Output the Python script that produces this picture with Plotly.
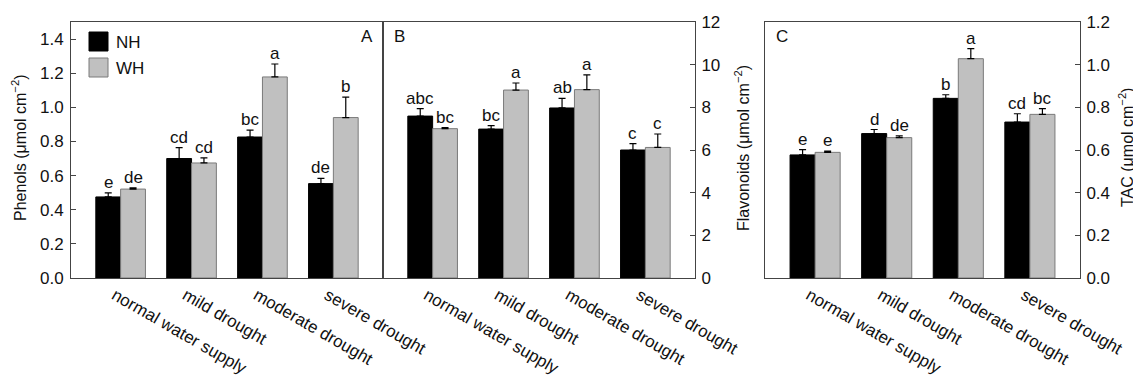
import plotly.graph_objects as go

# page body adds an 8px margin; map reference pixel coords accordingly
OFF = 8
W, H = 1141 - OFF, 381 - OFF

categories = ["normal water supply", "mild drought", "moderate drought", "severe drought"]
series_names = ["NH", "WH"]

# Panel A: Phenols
phenols_nh = [0.475, 0.700, 0.826, 0.553]
phenols_nh_err = [0.024, 0.064, 0.040, 0.031]
phenols_wh = [0.521, 0.674, 1.178, 0.940]
phenols_wh_err = [0.007, 0.030, 0.076, 0.120]
phenols_nh_letters = ["e", "cd", "bc", "de"]
phenols_wh_letters = ["de", "cd", "a", "b"]

# Panel B: Flavonoids
flav_nh = [7.59, 6.98, 7.97, 6.00]
flav_nh_err = [0.35, 0.16, 0.45, 0.30]
flav_wh = [7.00, 8.81, 8.83, 6.12]
flav_wh_err = [0.05, 0.33, 0.69, 0.63]
flav_nh_letters = ["abc", "bc", "ab", "c"]
flav_wh_letters = ["bc", "a", "a", "c"]

# Panel C: TAC
tac_nh = [0.577, 0.677, 0.842, 0.731]
tac_nh_err = [0.025, 0.019, 0.017, 0.039]
tac_wh = [0.589, 0.658, 1.028, 0.767]
tac_wh_err = [0.006, 0.008, 0.047, 0.027]
tac_nh_letters = ["e", "d", "b", "cd"]
tac_wh_letters = ["e", "de", "a", "bc"]

FONT = "Liberation Sans, Arial, sans-serif"
FS = 17
FX = 17
FT = 16
NH_COLOR, NH_LINE = "#000000", "#000000"
WH_COLOR, WH_LINE = "#c0c0c0", "#7a7a7a"
AXCOL = "#444444"
TXT = "#111111"


def px_x(p):
    return (p - OFF) / W


def px_y(p):
    return 1 - (p - OFF) / H


panels = [
    dict(nh=phenols_nh, nhe=phenols_nh_err, wh=phenols_wh, whe=phenols_wh_err,
         nl=phenols_nh_letters, wl=phenols_wh_letters, xa="x", ya="y",
         dom=(71, 383), rng=(0, 1.5), dtick=0.2, fmt=".1f", side="left",
         title="Phenols (μmol cm<sup>−2</sup>)", tx=19, label="A"),
    dict(nh=flav_nh, nhe=flav_nh_err, wh=flav_wh, whe=flav_wh_err,
         nl=flav_nh_letters, wl=flav_wh_letters, xa="x2", ya="y2",
         dom=(383, 695), rng=(0, 12), dtick=2, fmt="d", side="right",
         title="Flavonoids (μmol cm<sup>−2</sup>)", tx=742, label="B"),
    dict(nh=tac_nh, nhe=tac_nh_err, wh=tac_wh, whe=tac_wh_err,
         nl=tac_nh_letters, wl=tac_wh_letters, xa="x3", ya="y3",
         dom=(765, 1080), rng=(0, 1.2), dtick=0.2, fmt=".1f", side="right",
         title="TAC (μmol cm<sup>−2</sup>)", tx=1126, label="C"),
]

fig = go.Figure()
annotations = []
shapes = []

for i, p in enumerate(panels):
    for vals, errs, col, lcol, name in [
        (p["nh"], p["nhe"], NH_COLOR, NH_LINE, series_names[0]),
        (p["wh"], p["whe"], WH_COLOR, WH_LINE, series_names[1]),
    ]:
        fig.add_trace(go.Bar(
            x=categories, y=vals, name=name, showlegend=False,
            xaxis=p["xa"], yaxis=p["ya"],
            marker=dict(color=col, line=dict(color=lcol, width=1)),
            error_y=dict(type="data", array=errs, arrayminus=[0] * len(errs),
                         symmetric=False, color="#000000", thickness=1.2, width=3.5),
        ))
    # significance letters
    for j in range(len(categories)):
        for off, vals, errs, letters in [
            (-0.175, p["nh"], p["nhe"], p["nl"]),
            (0.175, p["wh"], p["whe"], p["wl"]),
        ]:
            annotations.append(dict(
                x=j + off, y=vals[j] + errs[j], xref=p["xa"], yref=p["ya"],
                text=letters[j], showarrow=False, yanchor="bottom", xanchor="center",
                yshift=-1, font=dict(family=FONT, size=FS, color=TXT),
            ))
    # axis title as rotated text
    annotations.append(dict(
        x=px_x(p["tx"]), y=px_y(148), xref="paper", yref="paper", text=p["title"],
        showarrow=False, textangle=-90, xanchor="center", yanchor="middle",
        font=dict(family=FONT, size=FT, color=TXT)))
    xd = [px_x(p["dom"][0]), px_x(p["dom"][1])]
    yd = [px_y(278), px_y(22)]
    axn = "" if i == 0 else str(i + 1)
    fig.layout["xaxis" + axn] = dict(
        domain=xd, anchor=p["ya"], type="category", range=[-0.7, 3.7],
        showline=True, linecolor=AXCOL, linewidth=1, mirror=True,
        ticks="", tickangle=30, ticklabelshift=-6,
        tickfont=dict(family=FONT, size=FX, color=TXT),
        showgrid=False, zeroline=False, automargin=False, fixedrange=True,
    )
    fig.layout["yaxis" + axn] = dict(
        domain=yd, anchor=p["xa"], range=list(p["rng"]), dtick=p["dtick"],
        tickformat=p["fmt"], side=p["side"],
        showline=True, linecolor=AXCOL, linewidth=1, mirror=True,
        ticks="inside", ticklen=5, tickcolor=AXCOL, tickwidth=1,
        ticklabelstandoff=3 if p["side"] == "left" else 2,
        tickfont=dict(family=FONT, size=FS, color=TXT),
        showgrid=False, zeroline=False, automargin=False, fixedrange=True,
    )

# panel labels
annotations.append(dict(x=px_x(375), y=px_y(36), xref="paper", yref="paper", text="A",
                        showarrow=False, xanchor="right", yanchor="middle",
                        font=dict(family=FONT, size=FS, color=TXT)))
annotations.append(dict(x=px_x(392), y=px_y(36), xref="paper", yref="paper", text="B",
                        showarrow=False, xanchor="left", yanchor="middle",
                        font=dict(family=FONT, size=FS, color=TXT)))
annotations.append(dict(x=px_x(774), y=px_y(36), xref="paper", yref="paper", text="C",
                        showarrow=False, xanchor="left", yanchor="middle",
                        font=dict(family=FONT, size=FS, color=TXT)))

# legend (custom squares)
for k, (name, col, lcol) in enumerate([(series_names[0], NH_COLOR, NH_LINE),
                                        (series_names[1], WH_COLOR, WH_LINE)]):
    top = 32 + k * 26
    shapes.append(dict(type="rect", xref="paper", yref="paper",
                       x0=px_x(89), x1=px_x(108), y0=px_y(top + 19), y1=px_y(top),
                       fillcolor=col, line=dict(color=lcol, width=1)))
    annotations.append(dict(x=px_x(114), y=px_y(top + 10), xref="paper", yref="paper",
                            text=name, showarrow=False, xanchor="left", yanchor="middle",
                            font=dict(family=FONT, size=FS, color=TXT)))

fig.update_layout(
    width=W, height=H, margin=dict(l=0, r=0, t=0, b=0),
    barmode="group", bargap=0.3, bargroupgap=0,
    plot_bgcolor="white", paper_bgcolor="white",
    annotations=annotations, shapes=shapes,
    font=dict(family=FONT, size=FS, color=TXT),
)

fig.write_html("out.html")
